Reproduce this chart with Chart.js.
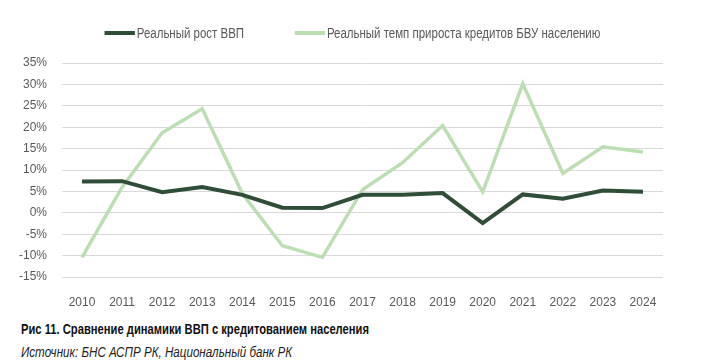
<!DOCTYPE html>
<html lang="ru">
<head>
    <meta charset="UTF-8">
    <title>Рис 11</title>
    <style>
        body { margin: 0; background: #fff; font-family: 'Liberation Sans', Arial, sans-serif; }
        #wrap { position: relative; width: 705px; height: 364px; overflow: hidden; }
        #chart { position: absolute; left: 0; top: 0; }
        #legend { position: absolute; left: 0; top: 25px; width: 705px; display: flex; justify-content: center; gap: 62px; font-size: 14px; color: #595959; transform: scaleX(0.82); transform-origin: 353px 0; }
        #legend .item { display: flex; align-items: center; }
        #legend .swatch { width: 37px; height: 4px; display: inline-block; margin-right: 2px; }
        .note { position: absolute; left: 21px; white-space: nowrap; transform-origin: 0 0; }
        #caption { top: 321px; font-size: 14px; font-weight: bold; color: #111; transform: scaleX(0.8); }
        #source { top: 344px; font-size: 14px; font-style: italic; color: #222; transform: scaleX(0.83); }
    </style>
    <script src="https://cdn.jsdelivr.net/npm/chart.js@4.4.0/dist/chart.umd.min.js"></script>
</head>
<body>
<div id="wrap">
    <canvas id="chart" width="705" height="310"></canvas>
    <div id="legend"></div>
    <div id="caption" class="note">Рис 11. Сравнение динамики ВВП с кредитованием населения</div>
    <div id="source" class="note">Источник: БНС АСПР РК, Национальный банк РК</div>
</div>
<script>
    const years = ['2010', '2011', '2012', '2013', '2014', '2015', '2016', '2017', '2018', '2019', '2020', '2021', '2022', '2023', '2024'];
    const gdpGrowth = [7.3, 7.4, 4.8, 6.0, 4.2, 1.2, 1.1, 4.2, 4.2, 4.6, -2.4, 4.3, 3.3, 5.2, 4.9];
    const creditGrowth = [-10.4, 6.0, 18.7, 24.3, 4.5, -7.7, -10.4, 5.4, 11.7, 20.4, 4.9, 30.2, 9.2, 15.4, 14.2];
    const seriesNames = ['Реальный рост ВВП', 'Реальный темп прироста кредитов БВУ населению'];

    const darkGreen = '#2f4d37';
    const lightGreen = '#bcdeb3';
    const fontFamily = "'Liberation Sans', Arial, sans-serif";

    new Chart(document.getElementById('chart').getContext('2d'), {
        type: 'line',
        data: {
            labels: years,
            datasets: [{
                label: seriesNames[0],
                data: gdpGrowth,
                borderColor: darkGreen,
                borderWidth: 4,
                pointRadius: 0,
                tension: 0,
                order: 0
            }, {
                label: seriesNames[1],
                data: creditGrowth,
                borderColor: lightGreen,
                borderWidth: 3.5,
                pointRadius: 0,
                tension: 0,
                order: 1
            }]
        },
        options: {
            animation: false,
            responsive: false,
            layout: { padding: { top: 63, right: 42, left: 0, bottom: 0 } },
            scales: {
                x: {
                    offset: true,
                    grid: { display: false },
                    border: { display: false },
                    ticks: { color: '#595959', font: { family: fontFamily, size: 12 }, padding: 10, maxRotation: 0, autoSkip: false },
                    afterFit: function(scale) { scale.height = 33; }
                },
                y: {
                    min: -15,
                    max: 35,
                    grid: { color: '#d9d9d9', lineWidth: 1, drawTicks: false },
                    border: { display: false },
                    ticks: {
                        stepSize: 5,
                        color: '#595959',
                        font: { family: fontFamily, size: 12 },
                        padding: 15,
                        callback: v => v + '%'
                    },
                    afterFit: function(scale) { scale.width = 62; }
                }
            },
            plugins: {
                legend: { display: false },
                tooltip: { enabled: false }
            }
        }
    });

    // legend in html, like the reference
    const legendItems = [
        { label: seriesNames[0], color: darkGreen },
        { label: seriesNames[1], color: lightGreen }
    ];
    document.getElementById('legend').innerHTML = legendItems.map(item => `
        <span class="item"><span class="swatch" style="background-color: ${item.color};"></span><span>${item.label}</span></span>
    `).join('');
</script>
</body>
</html>
